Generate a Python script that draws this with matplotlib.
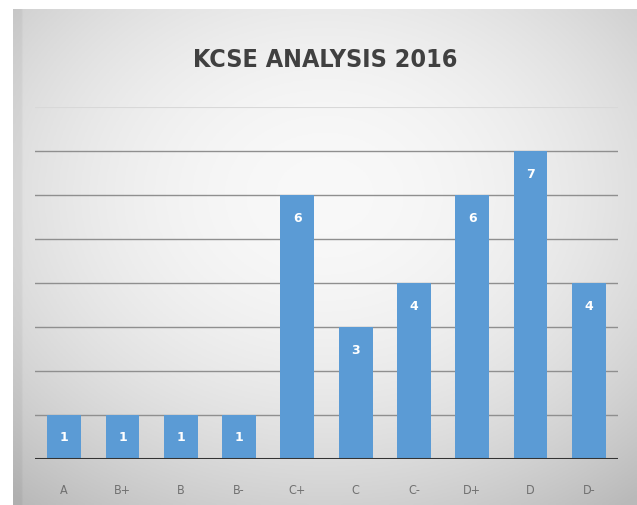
import numpy as np
import matplotlib
matplotlib.use("Agg")
import matplotlib.pyplot as plt

grades = ["A", "B+", "B", "B-", "C+", "C", "C-", "D+", "D", "D-"]
counts = [1, 1, 1, 1, 6, 3, 4, 6, 7, 4]

fig = plt.figure(figsize=(6.37, 5.06), dpi=100)
W, H = 637, 506

# gradient panel behind the chart
bg = fig.add_axes([13 / W, 0, 624 / W, 496 / H])
yy, xx = np.mgrid[-1:1:200j, -1:1:200j]
r = np.sqrt((xx * 0.95) ** 2 + ((yy + 0.25) * 0.95) ** 2)
shade = 0.975 - 0.11 * np.clip(r, 0, 1.5) ** 2
shade[:, :3] -= 0.04
img = np.dstack([shade, shade, shade])
bg.imshow(np.clip(img, 0, 1), aspect="auto", extent=[0, 1, 0, 1])
bg.set_axis_off()

ax = fig.add_axes([35 / W, 46 / H, 583 / W, 352 / H])
ax.patch.set_alpha(0)
x = np.arange(len(grades))
bars = ax.bar(x, counts, width=0.58, color="#5b9bd5", zorder=3)
ax.set_xlim(-0.5, len(grades) - 0.5)
ax.set_ylim(0, 8)

for yv in range(1, 8):
    ax.axhline(yv, color="#8f8f8f", lw=1.0, zorder=1)
ax.axhline(8, color="#d8d8d8", lw=0.8, zorder=1)
ax.axhline(0, color="#333333", lw=2.2, zorder=4)

for b, v in zip(bars, counts):
    ax.text(b.get_x() + b.get_width() / 2, v - 0.5, str(v), ha="center",
            va="center", color="white", fontsize=9, fontweight="bold", zorder=5)

ax.set_xticks(x)
ax.set_xticklabels(grades, fontsize=9, color="#707070", fontstretch="condensed")
ax.tick_params(axis="x", length=0, pad=17)
ax.set_yticks([])
for s in ax.spines.values():
    s.set_visible(False)

fig.text(0.51, 1 - 60 / H, "KCSE ANALYSIS 2016", ha="center", va="center",
         fontsize=18, fontweight="bold", color="#404040", fontstretch="condensed")

fig.savefig("out.png", dpi=100, facecolor="white")
